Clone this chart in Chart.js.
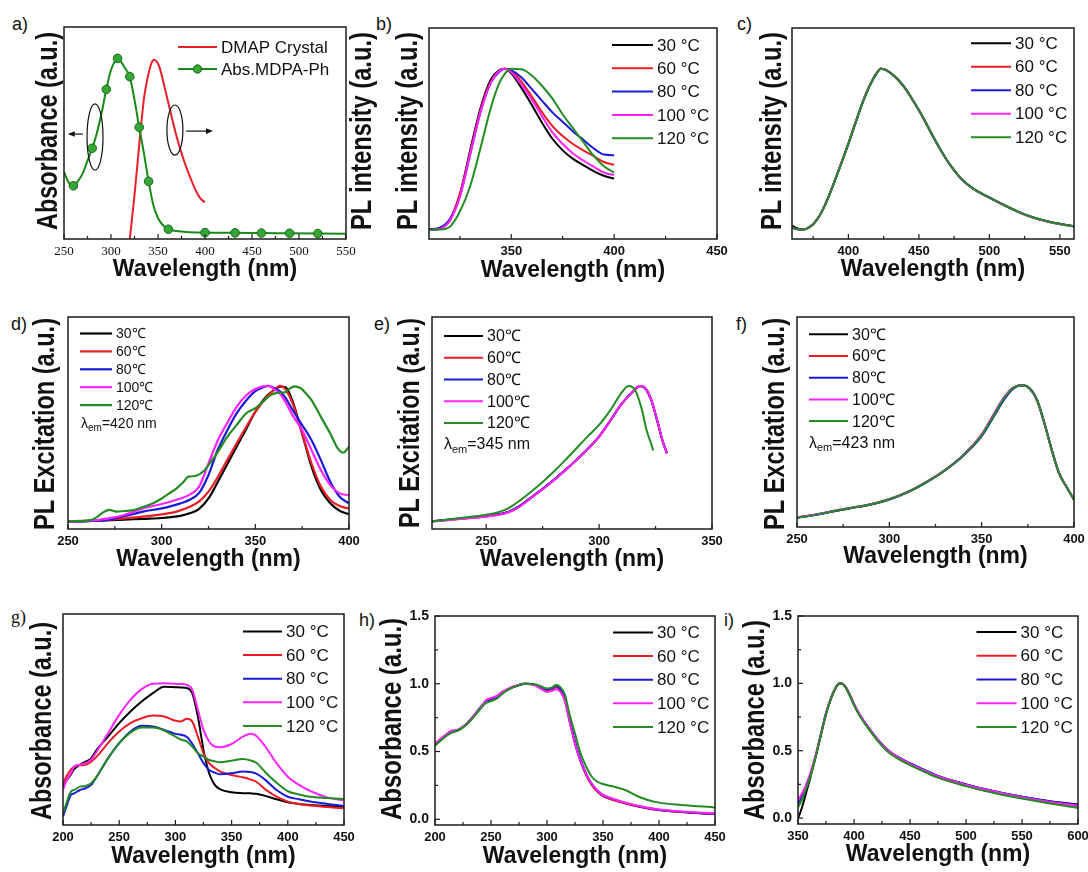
<!DOCTYPE html>
<html>
<head>
<meta charset="utf-8">
<script src="https://cdn.jsdelivr.net/npm/chart.js@4.4.0/dist/chart.umd.min.js"></script>
<style>
body { margin: 0; background: #fff; }
#fig { position: relative; width: 1088px; height: 872px; overflow: hidden; background: #fff; }
canvas.panel { position: absolute; }
.tag { position: absolute; font: 18px "Liberation Sans", Arial, sans-serif; line-height: 18px; color: #111; }
</style>
</head>
<body>
<div id="fig">
  <div class="tag" style="left:12px;top:15px">a)</div>
  <div class="tag" style="left:376px;top:15px">b)</div>
  <div class="tag" style="left:737px;top:15px">c)</div>
  <div class="tag" style="left:11px;top:315px">d)</div>
  <div class="tag" style="left:374px;top:315px">e)</div>
  <div class="tag" style="left:736px;top:315px">f)</div>
  <div class="tag" style="left:11px;top:608px;font-family:'Liberation Serif',serif">g)</div>
  <div class="tag" style="left:359px;top:611px">h)</div>
  <div class="tag" style="left:724px;top:611px">i)</div>
</div>
<script>
const SANS = '"Liberation Sans", Arial, Helvetica, sans-serif';
const SERIF = '"Liberation Serif", "Times New Roman", serif';

// ---- shared labels ----
const tempLabels = ['30 °C', '60 °C', '80 °C', '100 °C', '120 °C'];
const tempLabelsC = ['30℃', '60℃', '80℃', '100℃', '120℃'];

// ---- panel a ----
const aTicks = [250, 300, 350, 400, 450, 500, 550];
const aRedNm = [320, 325, 330, 335, 338, 341, 343, 346, 349, 352, 356, 360, 366, 370, 375, 380, 385, 390, 395, 400];
const aRedPL = [0, 0.207, 0.443, 0.66, 0.74, 0.8, 0.83, 0.845, 0.835, 0.805, 0.735, 0.66, 0.55, 0.48, 0.405, 0.34, 0.283, 0.23, 0.192, 0.173];
const aGreenNm = [250, 255, 260, 265, 270, 275, 280, 285, 290, 295, 300, 305, 307, 310, 315, 320, 325, 330, 335, 340, 345, 350, 355, 361, 370, 380, 400, 432, 460, 490, 520, 550];
const aGreenAbs = [0.317, 0.266, 0.251, 0.274, 0.311, 0.37, 0.428, 0.5, 0.594, 0.706, 0.797, 0.844, 0.852, 0.84, 0.805, 0.766, 0.656, 0.527, 0.405, 0.272, 0.16, 0.099, 0.066, 0.046, 0.038, 0.033, 0.03, 0.029, 0.028, 0.027, 0.026, 0.025];
const aMarkerNm = [260, 280, 295, 307, 320, 330, 340, 361, 400, 432, 460, 490, 520];

// ---- panel b ----
const bTicks = [350, 400, 450];
const bNm = [310, 315, 320, 325, 330, 335, 340, 344, 347, 350, 355, 360, 365, 370, 375, 380, 385, 390, 395, 400];
const b30 = [0.044, 0.05, 0.085, 0.21, 0.42, 0.62, 0.755, 0.8, 0.807, 0.785, 0.715, 0.635, 0.55, 0.475, 0.42, 0.38, 0.35, 0.322, 0.3, 0.286];
const b60 = [0.044, 0.05, 0.09, 0.215, 0.41, 0.61, 0.745, 0.795, 0.807, 0.798, 0.745, 0.675, 0.6, 0.535, 0.488, 0.45, 0.42, 0.393, 0.365, 0.352];
const b80 = [0.046, 0.053, 0.092, 0.2, 0.4, 0.6, 0.74, 0.79, 0.807, 0.8, 0.765, 0.71, 0.655, 0.6, 0.555, 0.51, 0.47, 0.43, 0.4, 0.397];
const b100 = [0.042, 0.047, 0.085, 0.2, 0.4, 0.6, 0.74, 0.795, 0.807, 0.79, 0.73, 0.66, 0.58, 0.505, 0.45, 0.405, 0.372, 0.343, 0.315, 0.303];
const b120 = [0.044, 0.045, 0.057, 0.13, 0.25, 0.43, 0.62, 0.735, 0.785, 0.807, 0.805, 0.775, 0.725, 0.665, 0.59, 0.525, 0.46, 0.395, 0.345, 0.315];

// ---- panel c ----
const cTicks = [400, 450, 500, 550];
const cNm = [360, 363, 367, 370, 375, 380, 385, 390, 395, 400, 405, 410, 415, 420, 423, 426, 430, 435, 440, 445, 450, 455, 460, 465, 470, 475, 480, 485, 490, 495, 500, 510, 520, 530, 540, 550, 560];
const c30 = [0.064, 0.052, 0.045, 0.048, 0.07, 0.115, 0.185, 0.27, 0.36, 0.452, 0.55, 0.645, 0.725, 0.785, 0.807, 0.804, 0.787, 0.757, 0.717, 0.666, 0.611, 0.551, 0.487, 0.428, 0.373, 0.326, 0.286, 0.257, 0.233, 0.214, 0.197, 0.163, 0.131, 0.105, 0.086, 0.072, 0.061];
const c60 = [0.056, 0.048, 0.044, 0.048, 0.07, 0.116, 0.186, 0.27, 0.36, 0.452, 0.55, 0.646, 0.726, 0.786, 0.807, 0.803, 0.786, 0.756, 0.716, 0.665, 0.61, 0.55, 0.486, 0.427, 0.372, 0.325, 0.285, 0.256, 0.232, 0.213, 0.196, 0.162, 0.13, 0.104, 0.085, 0.071, 0.06];
const c80 = [0.055, 0.048, 0.044, 0.048, 0.07, 0.115, 0.185, 0.27, 0.36, 0.451, 0.549, 0.645, 0.725, 0.785, 0.807, 0.803, 0.786, 0.756, 0.716, 0.665, 0.61, 0.55, 0.486, 0.427, 0.372, 0.325, 0.285, 0.256, 0.232, 0.213, 0.196, 0.162, 0.13, 0.104, 0.085, 0.071, 0.06];
const c100 = [0.052, 0.046, 0.043, 0.048, 0.071, 0.117, 0.187, 0.272, 0.362, 0.454, 0.552, 0.647, 0.727, 0.787, 0.807, 0.802, 0.785, 0.755, 0.715, 0.664, 0.609, 0.549, 0.485, 0.426, 0.371, 0.324, 0.284, 0.255, 0.231, 0.212, 0.195, 0.161, 0.129, 0.103, 0.084, 0.07, 0.059];
const c120 = [0.054, 0.047, 0.044, 0.048, 0.07, 0.115, 0.185, 0.27, 0.36, 0.452, 0.55, 0.645, 0.725, 0.785, 0.807, 0.803, 0.786, 0.756, 0.716, 0.665, 0.61, 0.55, 0.486, 0.427, 0.372, 0.325, 0.285, 0.256, 0.232, 0.213, 0.196, 0.162, 0.13, 0.104, 0.085, 0.071, 0.06];

// ---- panel d ----
const dTicks = [250, 300, 350, 400];
const dNm = [250, 260, 270, 280, 290, 300, 305, 310, 315, 320, 325, 330, 335, 340, 345, 350, 354, 357, 360, 363, 366, 370, 375, 380, 385, 390, 395, 400];
const d30 = [0.035, 0.037, 0.04, 0.044, 0.048, 0.052, 0.056, 0.062, 0.074, 0.095, 0.144, 0.223, 0.305, 0.388, 0.47, 0.553, 0.605, 0.635, 0.655, 0.672, 0.67, 0.6, 0.45, 0.294, 0.184, 0.121, 0.086, 0.069];
const d60 = [0.035, 0.038, 0.043, 0.05, 0.058, 0.069, 0.076, 0.088, 0.105, 0.13, 0.176, 0.246, 0.325, 0.403, 0.48, 0.553, 0.6, 0.632, 0.655, 0.675, 0.66, 0.59, 0.45, 0.309, 0.2, 0.137, 0.108, 0.097];
const d80 = [0.035, 0.037, 0.042, 0.06, 0.082, 0.097, 0.108, 0.121, 0.138, 0.17, 0.255, 0.375, 0.465, 0.545, 0.605, 0.65, 0.668, 0.675, 0.665, 0.65, 0.62, 0.56, 0.49, 0.419, 0.325, 0.223, 0.152, 0.121];
const d100 = [0.035, 0.038, 0.048, 0.066, 0.097, 0.118, 0.13, 0.144, 0.162, 0.2, 0.309, 0.419, 0.5, 0.576, 0.63, 0.66, 0.673, 0.675, 0.66, 0.64, 0.6, 0.535, 0.466, 0.372, 0.278, 0.207, 0.168, 0.16];
const d120Nm = [250, 256, 262, 266, 268, 272, 276, 280, 284, 288, 292, 296, 300, 304, 308, 312, 314, 318, 322, 325, 330, 335, 340, 345, 350, 354, 358, 362, 366, 368, 371, 374, 377, 380, 385, 390, 394, 397, 400];
const d120 = [0.035, 0.038, 0.042, 0.06, 0.074, 0.09, 0.082, 0.085, 0.088, 0.097, 0.11, 0.124, 0.144, 0.168, 0.192, 0.225, 0.246, 0.25, 0.27, 0.301, 0.364, 0.435, 0.49, 0.545, 0.57, 0.6, 0.631, 0.642, 0.645, 0.66, 0.673, 0.665, 0.64, 0.608, 0.529, 0.45, 0.38, 0.36, 0.388];

// ---- panel e ----
const eTicks = [250, 300, 350];
const eNm = [226, 235, 245, 250, 255, 260, 265, 270, 275, 280, 285, 290, 295, 300, 305, 310, 315, 318, 320, 323, 326, 328, 330];
const e30 = [0.036, 0.045, 0.055, 0.06, 0.068, 0.082, 0.11, 0.15, 0.19, 0.232, 0.278, 0.326, 0.378, 0.436, 0.512, 0.59, 0.648, 0.673, 0.668, 0.61, 0.5, 0.42, 0.36];
const e60 = [0.036, 0.045, 0.054, 0.059, 0.067, 0.08, 0.108, 0.148, 0.188, 0.23, 0.276, 0.325, 0.377, 0.435, 0.511, 0.59, 0.648, 0.674, 0.669, 0.612, 0.502, 0.42, 0.358];
const e80 = [0.036, 0.046, 0.055, 0.06, 0.068, 0.081, 0.109, 0.149, 0.19, 0.232, 0.278, 0.327, 0.379, 0.437, 0.512, 0.591, 0.649, 0.674, 0.668, 0.611, 0.5, 0.419, 0.358];
const e100 = [0.035, 0.044, 0.053, 0.058, 0.066, 0.079, 0.107, 0.147, 0.188, 0.23, 0.277, 0.326, 0.378, 0.436, 0.512, 0.591, 0.649, 0.675, 0.67, 0.613, 0.503, 0.422, 0.355];
const e120Nm = [226, 235, 245, 250, 255, 260, 265, 270, 275, 280, 285, 290, 295, 300, 305, 310, 313, 316, 319, 321, 323, 324];
const e120 = [0.036, 0.047, 0.06, 0.067, 0.078, 0.099, 0.135, 0.177, 0.222, 0.271, 0.325, 0.381, 0.437, 0.491, 0.561, 0.643, 0.674, 0.655, 0.561, 0.467, 0.404, 0.37];

// ---- panel f ----
const fTicks = [250, 300, 350, 400];
const fNm = [250, 260, 270, 280, 290, 300, 310, 320, 330, 340, 350, 356, 362, 367, 372, 376, 380, 384, 388, 392, 396, 400];
const f30 = [0.044, 0.058, 0.075, 0.091, 0.107, 0.131, 0.166, 0.213, 0.269, 0.34, 0.435, 0.52, 0.607, 0.66, 0.675, 0.66, 0.604, 0.494, 0.366, 0.255, 0.19, 0.13];
const f60 = [0.045, 0.059, 0.076, 0.092, 0.108, 0.132, 0.167, 0.214, 0.27, 0.342, 0.44, 0.528, 0.614, 0.663, 0.675, 0.658, 0.602, 0.492, 0.365, 0.254, 0.19, 0.13];
const f80 = [0.044, 0.058, 0.075, 0.091, 0.107, 0.131, 0.166, 0.212, 0.268, 0.339, 0.433, 0.518, 0.605, 0.659, 0.675, 0.661, 0.605, 0.495, 0.367, 0.255, 0.191, 0.131];
const f100 = [0.045, 0.06, 0.077, 0.093, 0.109, 0.133, 0.168, 0.215, 0.271, 0.343, 0.441, 0.53, 0.616, 0.664, 0.675, 0.658, 0.601, 0.491, 0.364, 0.253, 0.189, 0.129];
const f120 = [0.044, 0.059, 0.076, 0.092, 0.108, 0.132, 0.167, 0.214, 0.27, 0.341, 0.437, 0.524, 0.611, 0.662, 0.675, 0.659, 0.603, 0.492, 0.365, 0.254, 0.19, 0.13];

// ---- panel g ----
const gTicks = [200, 250, 300, 350, 400, 450];
const gNm = [200, 203, 207, 210, 215, 220, 225, 230, 240, 250, 260, 270, 280, 290, 300, 305, 310, 315, 320, 325, 330, 335, 340, 350, 360, 367, 372, 380, 390, 400, 410, 420, 435, 450];
const g30 = [0.182, 0.21, 0.24, 0.265, 0.285, 0.3, 0.316, 0.356, 0.419, 0.483, 0.538, 0.585, 0.625, 0.655, 0.653, 0.652, 0.649, 0.625, 0.514, 0.356, 0.245, 0.19, 0.169, 0.155, 0.151, 0.15, 0.148, 0.138, 0.122, 0.108, 0.1, 0.095, 0.09, 0.087];
const g60 = [0.198, 0.23, 0.262, 0.277, 0.283, 0.285, 0.3, 0.324, 0.388, 0.443, 0.483, 0.506, 0.519, 0.514, 0.494, 0.491, 0.503, 0.49, 0.419, 0.34, 0.293, 0.27, 0.253, 0.237, 0.226, 0.215, 0.205, 0.169, 0.134, 0.111, 0.1, 0.092, 0.085, 0.079];
const g80 = [0.04, 0.087, 0.142, 0.15, 0.166, 0.174, 0.19, 0.229, 0.316, 0.388, 0.443, 0.47, 0.467, 0.451, 0.432, 0.428, 0.418, 0.385, 0.34, 0.293, 0.261, 0.248, 0.241, 0.245, 0.253, 0.251, 0.243, 0.214, 0.166, 0.134, 0.122, 0.111, 0.1, 0.09];
const g100 = [0.166, 0.21, 0.245, 0.277, 0.285, 0.293, 0.309, 0.348, 0.435, 0.522, 0.593, 0.644, 0.669, 0.672, 0.669, 0.668, 0.665, 0.641, 0.546, 0.451, 0.396, 0.372, 0.369, 0.384, 0.419, 0.432, 0.422, 0.372, 0.293, 0.229, 0.19, 0.161, 0.131, 0.116];
const g120 = [0.055, 0.103, 0.158, 0.166, 0.182, 0.185, 0.198, 0.229, 0.316, 0.388, 0.438, 0.462, 0.462, 0.448, 0.419, 0.405, 0.396, 0.372, 0.34, 0.324, 0.309, 0.302, 0.297, 0.305, 0.313, 0.306, 0.295, 0.25, 0.2, 0.16, 0.145, 0.134, 0.128, 0.123];

// ---- panel h ----
const hTicks = [200, 250, 300, 350, 400, 450];
const hYTicks = [0, 0.5, 1.0, 1.5];
const hNm = [200, 205, 210, 215, 220, 225, 230, 235, 240, 245, 250, 255, 260, 265, 270, 275, 280, 285, 290, 295, 300, 305, 308, 312, 316, 320, 325, 330, 335, 340, 345, 350, 360, 370, 380, 390, 400, 420, 450];
const h30 = [0.548, 0.584, 0.621, 0.646, 0.658, 0.683, 0.72, 0.768, 0.818, 0.867, 0.886, 0.904, 0.933, 0.958, 0.977, 0.989, 1.0, 0.998, 0.99, 0.97, 0.953, 0.965, 0.98, 0.953, 0.879, 0.732, 0.56, 0.425, 0.327, 0.253, 0.204, 0.172, 0.142, 0.118, 0.098, 0.081, 0.069, 0.054, 0.039];
const h60 = [0.545, 0.59, 0.62, 0.65, 0.655, 0.68, 0.715, 0.765, 0.815, 0.87, 0.89, 0.905, 0.935, 0.96, 0.98, 0.992, 1.0, 0.998, 0.99, 0.968, 0.95, 0.96, 0.975, 0.955, 0.885, 0.74, 0.565, 0.43, 0.33, 0.255, 0.205, 0.172, 0.14, 0.117, 0.097, 0.08, 0.068, 0.053, 0.038];
const h80 = [0.55, 0.585, 0.618, 0.642, 0.655, 0.68, 0.72, 0.765, 0.82, 0.865, 0.885, 0.9, 0.93, 0.955, 0.975, 0.99, 1.0, 0.998, 0.99, 0.972, 0.958, 0.97, 0.985, 0.96, 0.89, 0.75, 0.575, 0.44, 0.337, 0.262, 0.212, 0.178, 0.147, 0.121, 0.1, 0.083, 0.07, 0.055, 0.04];
const h100 = [0.56, 0.595, 0.628, 0.655, 0.66, 0.685, 0.718, 0.77, 0.815, 0.875, 0.895, 0.91, 0.94, 0.962, 0.98, 0.992, 1.0, 0.997, 0.985, 0.96, 0.94, 0.95, 0.96, 0.94, 0.87, 0.725, 0.56, 0.43, 0.335, 0.262, 0.213, 0.18, 0.148, 0.122, 0.102, 0.085, 0.073, 0.058, 0.045];
const h120 = [0.545, 0.58, 0.615, 0.64, 0.655, 0.678, 0.712, 0.76, 0.81, 0.855, 0.872, 0.89, 0.925, 0.955, 0.975, 0.99, 1.0, 1.0, 0.995, 0.98, 0.965, 0.975, 0.99, 0.975, 0.92, 0.78, 0.633, 0.486, 0.388, 0.314, 0.277, 0.26, 0.24, 0.216, 0.174, 0.142, 0.123, 0.106, 0.088];

// ---- panel i ----
const iTicks = [350, 400, 450, 500, 550, 600];
const iYTicks = [0, 0.5, 1.0, 1.5];
const iNm = [350, 352, 355, 358, 361, 365, 370, 375, 380, 385, 388, 392, 396, 400, 405, 410, 420, 430, 440, 450, 460, 475, 500, 525, 550, 575, 600];
const i30 = [0.0, 0.04, 0.12, 0.21, 0.3, 0.432, 0.605, 0.778, 0.901, 0.985, 1.0, 0.978, 0.915, 0.84, 0.765, 0.704, 0.593, 0.505, 0.448, 0.405, 0.366, 0.312, 0.25, 0.2, 0.158, 0.125, 0.1];
const i60 = [0.1, 0.13, 0.18, 0.245, 0.32, 0.43, 0.6, 0.77, 0.9, 0.985, 1.0, 0.98, 0.92, 0.845, 0.765, 0.7, 0.588, 0.498, 0.44, 0.397, 0.358, 0.303, 0.24, 0.19, 0.148, 0.113, 0.088];
const i80 = [0.11, 0.14, 0.19, 0.25, 0.325, 0.435, 0.605, 0.775, 0.9, 0.985, 1.0, 0.98, 0.92, 0.845, 0.768, 0.707, 0.596, 0.508, 0.45, 0.407, 0.368, 0.313, 0.25, 0.2, 0.158, 0.124, 0.098];
const i100 = [0.13, 0.16, 0.205, 0.265, 0.335, 0.445, 0.61, 0.78, 0.905, 0.988, 1.0, 0.982, 0.922, 0.848, 0.77, 0.705, 0.594, 0.505, 0.447, 0.403, 0.364, 0.31, 0.247, 0.197, 0.154, 0.119, 0.092];
const i120 = [0.08, 0.11, 0.165, 0.235, 0.31, 0.43, 0.6, 0.772, 0.9, 0.985, 1.0, 0.978, 0.915, 0.838, 0.76, 0.697, 0.585, 0.495, 0.437, 0.393, 0.355, 0.3, 0.237, 0.186, 0.145, 0.108, 0.075];

const tempColors = ['#000000', '#ee1c24', '#1a1ad8', '#ff22ff', '#238c23'];

// draws a heavy vertical title squeezed to a fixed length
function drawVTitle(ctx, text, cx, cy, len) {
    ctx.save();
    ctx.translate(cx, cy);
    ctx.rotate(-Math.PI / 2);
    ctx.font = 'bold 29px ' + SANS;
    ctx.fillStyle = '#111';
    ctx.textAlign = 'center';
    ctx.textBaseline = 'middle';
    ctx.fillText(text, 0, 0, len);
    ctx.restore();
}

// frame, inward ticks, inside legend and small notes
Chart.register({
    id: 'frame',
    afterDatasetsDraw(chart, args, o) {
        const { ctx, chartArea: a, scales } = chart;
        const seg = (x0, y0, x1, y1) => { ctx.beginPath(); ctx.moveTo(x0, y0); ctx.lineTo(x1, y1); ctx.stroke(); };
        const minors = sc => {
            const v = sc.ticks.map(t => t.value);
            const st = v[1] - v[0];
            const out = [];
            for (let m = v[0] - st / 2; m <= sc.max + 1e-9; m += st) if (m >= sc.min - 1e-9) out.push(m);
            return out;
        };
        ctx.save();
        ctx.strokeStyle = '#1b1b1b';
        ctx.lineWidth = 1.5;
        ctx.strokeRect(a.left, a.top, a.right - a.left, a.bottom - a.top);
        ctx.lineWidth = 1.2;
        const x = scales.x, y = scales.y;
        x.ticks.forEach(t => { const p = x.getPixelForValue(t.value); seg(p, a.bottom, p, a.bottom - 5); });
        minors(x).forEach(m => { const p = x.getPixelForValue(m); seg(p, a.bottom, p, a.bottom - 3); });
        if (o.yTicks) {
            y.ticks.forEach(t => { const p = y.getPixelForValue(t.value); seg(a.left, p, a.left + 5, p); });
            minors(y).forEach(m => { const p = y.getPixelForValue(m); seg(a.left, p, a.left + 3, p); });
        }
        ctx.restore();
    },
    afterDraw(chart, args, o) {
        const { ctx, chartArea: a } = chart;
        const lg = o.legend;
        if (o.yTitle) drawVTitle(ctx, o.yTitle.text, o.yTitle.cx, o.yTitle.cy, o.yTitle.len);
        ctx.save();
        if (lg) {
            chart.data.datasets.forEach((ds, i) => {
                const yy = a.top + lg.dy + i * lg.gap;
                const x0 = a.left + lg.dx;
                ctx.strokeStyle = ds.borderColor;
                ctx.lineWidth = ds.borderWidth;
                ctx.beginPath(); ctx.moveTo(x0, yy); ctx.lineTo(x0 + lg.len, yy); ctx.stroke();
                if (ds.legendDot) {
                    ctx.beginPath();
                    ctx.arc(x0 + lg.len / 2, yy, 4.2, 0, Math.PI * 2);
                    ctx.fillStyle = ds.pointBackgroundColor; ctx.fill();
                    ctx.lineWidth = 1; ctx.strokeStyle = ds.pointBorderColor; ctx.stroke();
                }
                ctx.fillStyle = '#111';
                ctx.font = lg.size + 'px ' + SANS;
                ctx.textBaseline = 'middle';
                ctx.textAlign = 'left';
                ctx.fillText(ds.label, x0 + lg.len + 4, yy + 1);
            });
        }
        if (o.lambda) {
            const n = o.lambda;
            let xx = a.left + n.dx;
            const yy = a.top + n.dy;
            ctx.fillStyle = '#111';
            ctx.textBaseline = 'middle';
            ctx.textAlign = 'left';
            ctx.font = n.size + 'px ' + SANS;
            ctx.fillText('λ', xx, yy);
            xx += ctx.measureText('λ').width;
            ctx.font = Math.round(n.size * 0.68) + 'px ' + SANS;
            ctx.fillText('em', xx, yy + n.size * 0.3);
            xx += ctx.measureText('em').width;
            ctx.font = n.size + 'px ' + SANS;
            ctx.fillText('=' + n.text, xx, yy);
        }
        ctx.restore();
    }
});

function series(nm, vals, label, color, width) {
    return {
        label: label,
        data: nm.map((x, k) => ({ x: x, y: vals[k] })),
        borderColor: color,
        backgroundColor: color,
        borderWidth: width || 2,
        pointRadius: 0,
        fill: false,
        cubicInterpolationMode: 'monotone'
    };
}

const fig = document.getElementById('fig');

function makePanel(p) {
    const left = Math.round(p.yTitle - 18);
    const top = p.t - 14;
    const right = p.r + p.padR;
    const bottom = Math.round(p.xTitle + 14);
    const cv = document.createElement('canvas');
    cv.className = 'panel';
    cv.width = right - left;
    cv.height = bottom - top;
    cv.style.left = left + 'px';
    cv.style.top = top + 'px';
    fig.appendChild(cv);

    const n = p.datasets.length;
    p.datasets.forEach((ds, i) => { ds.order = n - 1 - i; });

    const yScale = {
        type: 'linear',
        min: p.yMin !== undefined ? p.yMin : 0,
        max: p.yMax !== undefined ? p.yMax : 1,
        grid: { display: false, drawTicks: false },
        border: { display: false },
        ticks: {
            display: !!p.yTicks,
            font: { family: SANS, size: 14, weight: 'bold' },
            color: '#111',
            padding: 6,
            callback: v => v.toFixed(1)
        },
        title: { display: false, text: p.yLabel },
        afterFit: s => { s.width = p.l - left; s.paddingTop = 0; s.paddingBottom = 0; }
    };
    if (p.yTicks) yScale.afterBuildTicks = s => { s.ticks = p.yTicks.map(v => ({ value: v })); };

    return new Chart(cv, {
        type: 'line',
        data: { datasets: p.datasets },
        options: {
            responsive: false,
            animation: false,
            events: [],
            layout: { padding: { top: p.t - top, right: p.padR, left: 0, bottom: 0 } },
            plugins: {
                legend: { display: false },
                tooltip: { enabled: false },
                frame: {
                    yTicks: !!p.yTicks,
                    legend: p.legend,
                    lambda: p.lambda,
                    yTitle: { text: p.yLabel, cx: p.yTitle - left, cy: p.yMid - top, len: p.yLen }
                }
            },
            scales: {
                x: {
                    type: 'linear',
                    min: p.xMin,
                    max: p.xMax,
                    grid: { display: false, drawTicks: false },
                    border: { display: false },
                    ticks: {
                        font: p.serifTicks ? { family: SERIF, size: 13 } : { family: SANS, size: 13, weight: 'bold' },
                        color: '#111',
                        padding: 5,
                        autoSkip: false,
                        maxRotation: 0
                    },
                    title: {
                        display: true,
                        text: 'Wavelength (nm)',
                        color: '#111',
                        font: { family: SANS, size: 23, weight: 'bold' },
                        padding: { top: 0, bottom: bottom - p.xTitle - 13.8 }
                    },
                    afterBuildTicks: s => { s.ticks = p.xTicks.map(v => ({ value: v })); },
                    afterFit: s => { s.height = bottom - p.b; s.paddingLeft = 0; s.paddingRight = 0; }
                },
                y: yScale
            }
        },
        plugins: p.extra ? [p.extra] : []
    });
}

function tempSets(nms, vals, labels, width) {
    return vals.map((v, i) => series(Array.isArray(nms[0]) ? nms[i] : nms, v, labels[i], tempColors[i], width));
}

// ---------- a ----------
const aRed = series(aRedNm, aRedPL, 'DMAP Crystal', '#e8202a', 2);
const aGreen = series(aGreenNm, aGreenAbs, 'Abs.MDPA-Ph', '#178a17', 2);
aGreen.pointRadius = c => (c.raw && aMarkerNm.includes(c.raw.x)) ? 4.3 : 0;
aGreen.pointBackgroundColor = '#35a535';
aGreen.pointBorderColor = '#176b17';
aGreen.pointBorderWidth = 1;
aGreen.legendDot = true;

const aNotes = {
    id: 'aNotes',
    afterDraw(chart) {
        const { ctx, chartArea: a, scales: { x, y } } = chart;
        ctx.save();
        ctx.strokeStyle = '#111';
        ctx.fillStyle = '#111';
        ctx.lineWidth = 1.2;
        [[283, 0.481, 8.5, 0.156], [368, 0.514, 8.5, 0.118]].forEach(e => {
            const cx = x.getPixelForValue(e[0]), cy = y.getPixelForValue(e[1]);
            const rx = x.getPixelForValue(e[0] + e[2]) - cx, ry = cy - y.getPixelForValue(e[1] + e[3]);
            ctx.beginPath(); ctx.ellipse(cx, cy, rx, ry, 0, 0, Math.PI * 2); ctx.stroke();
        });
        [[270, 254, 0.495], [380, 408.5, 0.509]].forEach(ar => {
            const x0 = x.getPixelForValue(ar[0]), x1 = x.getPixelForValue(ar[1]), yy = y.getPixelForValue(ar[2]);
            const dir = Math.sign(x1 - x0);
            ctx.beginPath(); ctx.moveTo(x0, yy); ctx.lineTo(x1 - dir * 5, yy); ctx.stroke();
            ctx.beginPath(); ctx.moveTo(x1, yy); ctx.lineTo(x1 - dir * 7, yy - 2.8); ctx.lineTo(x1 - dir * 7, yy + 2.8); ctx.closePath(); ctx.fill();
        });
        ctx.restore();
        // right-hand axis title
        drawVTitle(ctx, 'PL intensity (a.u.)', a.right + 17, (a.top + a.bottom) / 2 - 2, 198);
    }
};

makePanel({
    l: 64, t: 27, r: 346, b: 239, yTitle: 49, yMid: 131, yLen: 198, xTitle: 269.5, padR: 40,
    xMin: 250, xMax: 550, xTicks: aTicks, serifTicks: true,
    yLabel: 'Absorbance (a.u.)',
    datasets: [aRed, aGreen],
    legend: { dx: 114, dy: 20, gap: 22, len: 39, size: 17 },
    extra: aNotes
});

// ---------- b ----------
makePanel({
    l: 429, t: 28, r: 717, b: 239, yTitle: 409, yMid: 131, yLen: 198, xTitle: 271, padR: 20,
    xMin: 310, xMax: 450, xTicks: bTicks,
    yLabel: 'PL intensity (a.u.)',
    datasets: tempSets(bNm, [b30, b60, b80, b100, b120], tempLabels),
    legend: { dx: 183, dy: 17, gap: 23.3, len: 41, size: 17 }
});

// ---------- c ----------
makePanel({
    l: 792, t: 28, r: 1074, b: 239, yTitle: 772.5, yMid: 131, yLen: 198, xTitle: 270, padR: 14,
    xMin: 360, xMax: 560, xTicks: cTicks,
    yLabel: 'PL intensity (a.u.)',
    datasets: tempSets(cNm, [c30, c60, c80, c100, c120], tempLabels),
    legend: { dx: 179, dy: 15.3, gap: 23.5, len: 40, size: 17 }
});

// ---------- d ----------
makePanel({
    l: 68, t: 317, r: 349, b: 529, yTitle: 46, yMid: 424, yLen: 212, xTitle: 560, padR: 20,
    xMin: 250, xMax: 400, xTicks: dTicks,
    yLabel: 'PL Excitation (a.u.)',
    datasets: tempSets([dNm, dNm, dNm, dNm, d120Nm], [d30, d60, d80, d100, d120], tempLabelsC, 2.2),
    legend: { dx: 12, dy: 16.5, gap: 17.9, len: 32, size: 14 },
    lambda: { dx: 13, dy: 107, size: 14, text: '420 nm' }
});

// ---------- e ----------
makePanel({
    l: 432, t: 317, r: 712, b: 529, yTitle: 411, yMid: 423, yLen: 210, xTitle: 560, padR: 20,
    xMin: 226, xMax: 350, xTicks: eTicks,
    yLabel: 'PL Excitation (a.u.)',
    datasets: tempSets([eNm, eNm, eNm, eNm, e120Nm], [e30, e60, e80, e100, e120], tempLabelsC),
    legend: { dx: 12, dy: 19, gap: 21.75, len: 39, size: 16 },
    lambda: { dx: 12, dy: 128, size: 16, text: '345 nm' }
});

// ---------- f ----------
makePanel({
    l: 797, t: 317, r: 1074, b: 527, yTitle: 776, yMid: 424, yLen: 212, xTitle: 556.7, padR: 14,
    xMin: 250, xMax: 400, xTicks: fTicks,
    yLabel: 'PL Excitation (a.u.)',
    datasets: tempSets(fNm, [f30, f60, f80, f100, f120], tempLabelsC),
    legend: { dx: 12, dy: 17.3, gap: 21.7, len: 39, size: 16 },
    lambda: { dx: 12, dy: 126.5, size: 16, text: '423 nm' }
});

// ---------- g ----------
makePanel({
    l: 63, t: 614, r: 344, b: 825, yTitle: 42.5, yMid: 721, yLen: 198, xTitle: 856.7, padR: 20,
    xMin: 200, xMax: 450, xTicks: gTicks,
    yLabel: 'Absorbance (a.u.)',
    datasets: tempSets(gNm, [g30, g60, g80, g100, g120], tempLabels),
    legend: { dx: 180, dy: 17.5, gap: 23.6, len: 39, size: 17 }
});

// ---------- h ----------
makePanel({
    l: 435, t: 616, r: 715, b: 825, yTitle: 392.5, yMid: 719, yLen: 202, xTitle: 856.7, padR: 12,
    xMin: 200, xMax: 450, xTicks: hTicks,
    yMin: -0.042, yMax: 1.5, yTicks: hYTicks,
    yLabel: 'Absorbance (a.u.)',
    datasets: tempSets(hNm, [h30, h60, h80, h100, h120], tempLabels),
    legend: { dx: 178, dy: 16.5, gap: 23.6, len: 40, size: 17 }
});

// ---------- i ----------
makePanel({
    l: 798, t: 616, r: 1078, b: 824, yTitle: 756, yMid: 720, yLen: 200, xTitle: 855, padR: 10,
    xMin: 350, xMax: 600, xTicks: iTicks,
    yMin: -0.044, yMax: 1.5, yTicks: iYTicks,
    yLabel: 'Absorbance (a.u.)',
    datasets: tempSets(iNm, [i30, i60, i80, i100, i120], tempLabels),
    legend: { dx: 178.5, dy: 16, gap: 23.75, len: 40, size: 17 }
});
</script>
</body>
</html>
